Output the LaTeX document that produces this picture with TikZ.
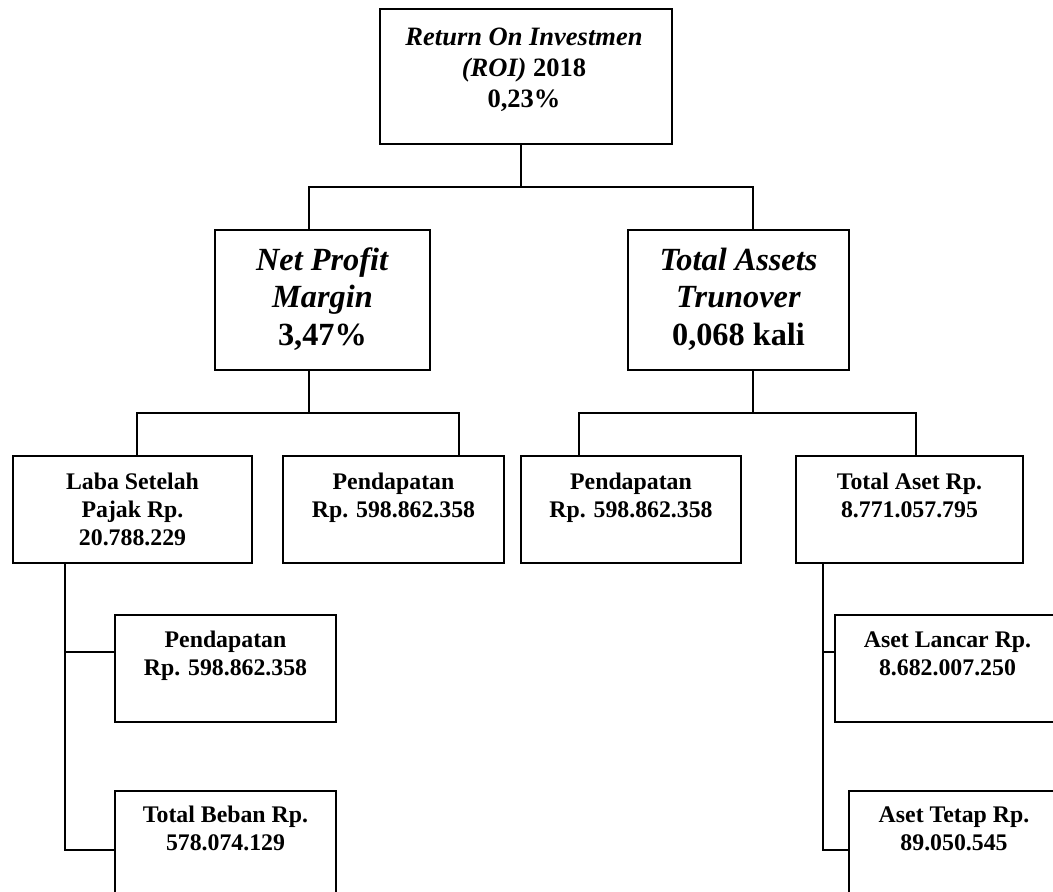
\documentclass[tikz,border=0pt]{standalone}
\usepackage{fontspec}
\setmainfont{Liberation Serif}
\begin{document}
\begin{tikzpicture}[x=1pt, y=-1pt,
	kotak/.style={draw, line width=1.4pt, inner sep=0pt},
	garis/.style={line width=1.1pt},
	isi/.style={anchor=base, align=center, inner sep=0pt, font=\bfseries\fontsize{23.8}{28}\selectfont},
	isibesar/.style={isi, font=\bfseries\fontsize{32.3}{37.5}\selectfont},
	isiatas/.style={isi, font=\bfseries\fontsize{26.5}{31}\selectfont}]
	\useasboundingbox (0,0) rectangle (1053,892);
	\clip (0,0) rectangle (1053,892);
	\node [kotak, minimum width=292pt, minimum height=135pt] (roi) at (526, 76.5) {};
	\node [kotak, minimum width=215pt, minimum height=140pt] (npm) at (322.5, 300) {};
	\node [kotak, minimum width=221pt, minimum height=140pt] (tat) at (738.5, 300) {};
	\node [kotak, minimum width=239pt, minimum height=107pt] (laba) at (132.5, 509.5) {};
	\node [kotak, minimum width=221pt, minimum height=107pt] (pend1) at (393.5, 509.5) {};
	\node [kotak, minimum width=220pt, minimum height=107pt] (pend2) at (631, 509.5) {};
	\node [kotak, minimum width=227pt, minimum height=107pt] (aset) at (909.5, 509.5) {};
	\node [kotak, minimum width=221pt, minimum height=107pt] (pend3) at (225.5, 668.5) {};
	\node [kotak, minimum width=221pt, minimum height=107pt] (beban) at (225.5, 844.5) {};
	\node [kotak, minimum width=225pt, minimum height=107pt] (lancar) at (947.5, 668.5) {};
	\node [kotak, minimum width=210pt, minimum height=107pt] (tetap) at (954, 844.5) {};
	\node [isiatas] (roi-txt) at (524, 107) {\textit{Return On Investmen}\\\textit{(ROI)} 2018\\0,23\%};
	\node [isibesar] (npm-txt) at (322.5, 345) {\textit{Net Profit}\\\textit{Margin}\\3,47\%};
	\node [isibesar] (tat-txt) at (738.5, 345) {\textit{Total Assets}\\\textit{Trunover}\\0,068 kali};
	\node [isi] (laba-txt) at (132.5, 545) {Laba Setelah\\Pajak Rp.\\20.788.229};
	\node [isi] (pend1-txt) at (393.5, 517) {Pendapatan\\Rp. 598.862.358};
	\node [isi] (pend2-txt) at (631, 517) {Pendapatan\\Rp. 598.862.358};
	\node [isi] (aset-txt) at (909.5, 517) {Total Aset Rp.\\8.771.057.795};
	\node [isi] (pend3-txt) at (225.5, 675) {Pendapatan\\Rp. 598.862.358};
	\node [isi] (beban-txt) at (225.5, 850) {Total Beban Rp.\\578.074.129};
	\node [isi] (lancar-txt) at (947.5, 675) {Aset Lancar Rp.\\8.682.007.250};
	\node [isi] (tetap-txt) at (954, 850) {Aset Tetap Rp.\\89.050.545};
	\coordinate (bus1) at (521, 187);
	\coordinate (bus2) at (309, 413);
	\coordinate (bus3) at (753, 413);
	\draw [garis] ([xshift=-5pt]roi.south) -- (bus1);
	\draw [garis] ([xshift=-13.5pt]npm.north) |- (bus1) -| ([xshift=14.5pt]tat.north);
	\draw [garis] ([xshift=-13.5pt]npm.south) -- (bus2);
	\draw [garis] ([xshift=4.5pt]laba.north) |- (bus2) -| ([xshift=65.5pt]pend1.north);
	\draw [garis] ([xshift=14.5pt]tat.south) -- (bus3);
	\draw [garis] ([xshift=-52pt]pend2.north) |- (bus3) -| ([xshift=6.5pt]aset.north);
	\draw [garis] ([xshift=-67.5pt]laba.south) |- ([yshift=16.5pt]pend3.west);
	\draw [garis] ([xshift=-67.5pt]laba.south) |- ([yshift=-5.5pt]beban.west);
	\draw [garis] ([xshift=-86.5pt]aset.south) |- ([yshift=16.5pt]lancar.west);
	\draw [garis] ([xshift=-86.5pt]aset.south) |- ([yshift=-5.5pt]tetap.west);
\end{tikzpicture}
\end{document}
